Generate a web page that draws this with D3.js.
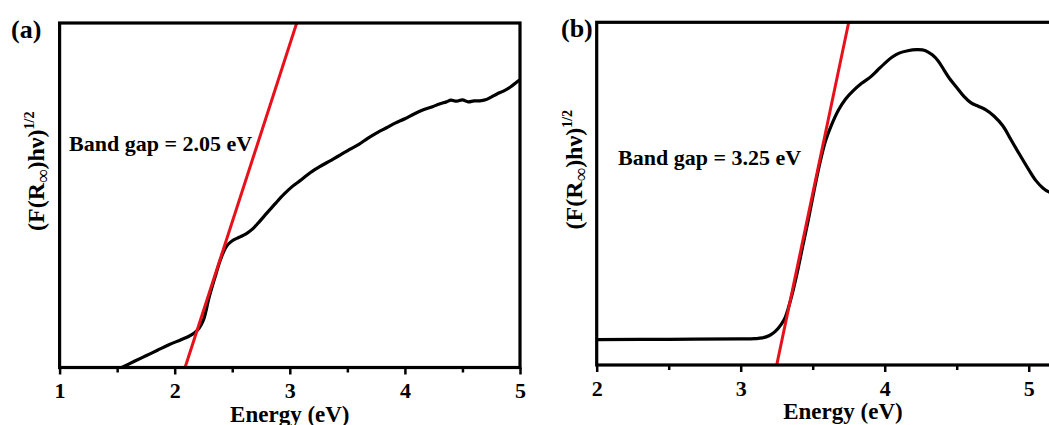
<!DOCTYPE html>
<html><head><meta charset="utf-8">
<script src="https://cdn.jsdelivr.net/npm/d3@7"></script>
<style>
html,body{margin:0;padding:0;background:#fff;overflow:hidden;}
svg{display:block;font-family:"Liberation Serif","Times New Roman",serif;font-weight:bold;}
</style></head>
<body>
<svg id="chart" width="1049" height="425"></svg>
<script>
// ---- data ----
const energyA = [1.54,1.65,1.75,1.85,1.95,2.05,2.12,2.17,2.21,2.25,2.30,2.35,2.40,2.45,2.50,2.56,2.62,2.68,2.74,2.80,2.88,2.95,3.02,3.10,3.18,3.26,3.35,3.44,3.52,3.60,3.68,3.76,3.84,3.92,4.00,4.08,4.16,4.24,4.30,4.36,4.40,4.45,4.50,4.55,4.60,4.65,4.70,4.75,4.80,4.86,4.92,4.97,5.00];
const valueA  = [0.000,0.018,0.034,0.050,0.066,0.080,0.090,0.100,0.113,0.138,0.205,0.262,0.315,0.352,0.368,0.378,0.388,0.403,0.425,0.448,0.478,0.503,0.525,0.545,0.566,0.583,0.600,0.617,0.633,0.648,0.666,0.682,0.696,0.710,0.722,0.736,0.748,0.757,0.765,0.771,0.776,0.773,0.777,0.771,0.774,0.774,0.777,0.785,0.794,0.803,0.815,0.828,0.835];
const energyB = [2.00,2.50,3.00,3.10,3.15,3.20,3.24,3.28,3.31,3.35,3.39,3.43,3.47,3.51,3.55,3.59,3.63,3.68,3.73,3.78,3.84,3.90,3.95,4.00,4.05,4.10,4.16,4.22,4.28,4.33,4.37,4.41,4.45,4.50,4.55,4.60,4.65,4.70,4.76,4.82,4.88,4.94,5.00,5.05,5.10,5.14,5.20];
const valueB  = [0.074,0.075,0.076,0.077,0.079,0.086,0.098,0.118,0.140,0.195,0.265,0.345,0.425,0.510,0.590,0.655,0.700,0.745,0.777,0.800,0.822,0.840,0.860,0.880,0.898,0.910,0.917,0.920,0.918,0.905,0.888,0.862,0.836,0.810,0.784,0.765,0.755,0.745,0.726,0.698,0.655,0.612,0.570,0.538,0.516,0.505,0.495];
const fitA = {x:[2.09,3.06], y:[0,1]};
const fitB = {x:[3.25,3.75], y:[0,1]};
const ticksA = [1,2,3,4,5];
const ticksB = [2,3,4,5];
const panelLabels = ["(a)","(b)"];
const gapLabels = ["Band gap = 2.05 eV","Band gap = 3.25 eV"];
const xTitle = "Energy (eV)";

const svg = d3.select("#chart");

function panel(cfg){
  const {x0,x1,y0,y1,domain,ticks,ex,vy,fit,label,gap,gapPos,labPos,yLabX,clipId} = cfg;
  const x = d3.scaleLinear().domain(domain).range([x0,x1]);
  const y = d3.scaleLinear().domain([0,1]).range([y1,y0]);
  const g = svg.append("g");
  svg.append("defs").append("clipPath").attr("id",clipId)
    .append("rect").attr("x",x0).attr("y",y0).attr("width",x1-x0).attr("height",y1-y0);

  // minor ticks
  const minor = d3.range(domain[0]+0.5, domain[1], 1);
  g.append("g").attr("transform",`translate(0,${y1})`)
    .call(d3.axisBottom(x).tickValues(minor).tickSize(5).tickFormat(""))
    .call(a=>a.select(".domain").remove())
    .call(a=>a.selectAll("line").attr("stroke","#000").attr("stroke-width",2.5));
  // major ticks
  const ax = g.append("g").attr("transform",`translate(0,${y1})`)
    .call(d3.axisBottom(x).tickValues(ticks).tickSize(7).tickPadding(8).tickFormat(d3.format("d")));
  ax.select(".domain").remove();
  ax.selectAll("line").attr("stroke","#000").attr("stroke-width",2.5);
  ax.selectAll("text").attr("font-family","Liberation Serif").attr("font-weight","bold")
    .attr("font-size",22).attr("fill","#000");

  // line
  const pts = ex.map((e,i)=>[e,vy[i]]);
  g.append("path").datum(pts)
    .attr("clip-path",`url(#${clipId})`)
    .attr("d",d3.line().x(d=>x(d[0])).y(d=>y(d[1])).curve(d3.curveCatmullRom.alpha(0.5)))
    .attr("fill","none").attr("stroke","#000").attr("stroke-width",3.2).attr("stroke-linejoin","round");
  // fit line
  g.append("line")
    .attr("x1",x(fit.x[0])).attr("y1",y(fit.y[0]))
    .attr("x2",x(fit.x[1])).attr("y2",y(fit.y[1]))
    .attr("stroke","#e8101a").attr("stroke-width",3);

  // frame
  g.append("rect").attr("x",x0).attr("y",y0).attr("width",x1-x0).attr("height",y1-y0)
    .attr("fill","none").attr("stroke","#000").attr("stroke-width",3.2);

  // texts
  g.append("text").attr("x",gapPos[0]).attr("y",gapPos[1]).attr("font-size",22).text(gap);
  g.append("text").attr("x",labPos[0]).attr("y",labPos[1]).attr("font-size",26).text(label);
  g.append("text").attr("x",(x0+x1)/2).attr("y",y1+54).attr("text-anchor","middle")
    .attr("font-size",23).text(xTitle);
  const yl = g.append("text").attr("transform",`translate(${yLabX},${(y0+y1)/2 - 24}) rotate(-90)`)
    .attr("text-anchor","middle").attr("font-size",24);
  yl.append("tspan").text("(F(R");
  yl.append("tspan").attr("dy",5).attr("font-size",19).attr("font-weight","normal").text("∞");
  yl.append("tspan").attr("dy",-5).text(")hν)");
  yl.append("tspan").attr("dy",-10).attr("font-size",14).text("1/2");
}

panel({x0:59.6,x1:520,y0:23,y1:367.5,domain:[1,5],ticks:ticksA,ex:energyA,vy:valueA,fit:fitA,
  label:panelLabels[0],gap:gapLabels[0],gapPos:[69,151],labPos:[11,38],yLabX:44,clipId:"ca"});
panel({x0:596.7,x1:1089.2,y0:22.3,y1:365,domain:[2,5.42],ticks:ticksB,ex:energyB,vy:valueB,fit:fitB,
  label:panelLabels[1],gap:gapLabels[1],gapPos:[618,165],labPos:[561,37],yLabX:582,clipId:"cb"});
</script>
</body></html>
